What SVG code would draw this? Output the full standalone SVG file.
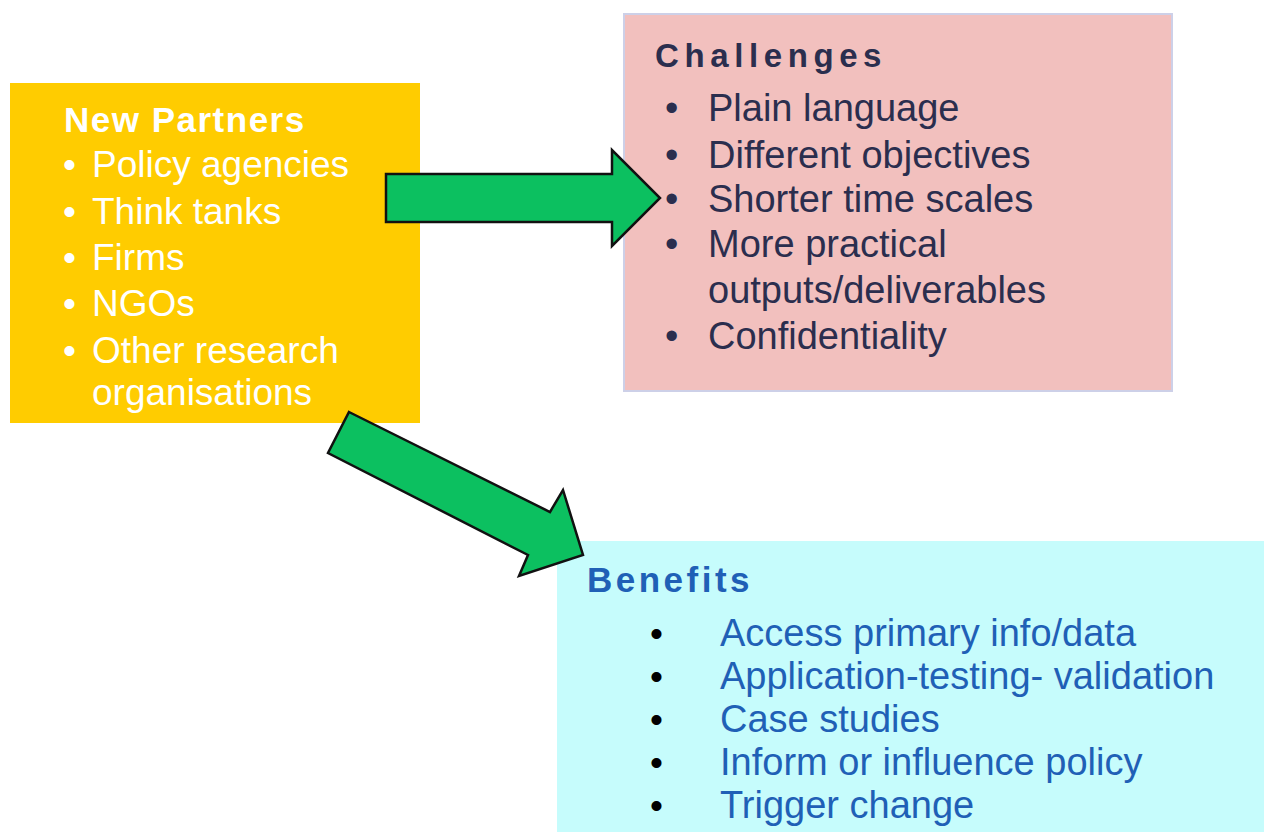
<svg xmlns="http://www.w3.org/2000/svg" width="1264" height="832" viewBox="0 0 1264 832">
<style>
text{font-family:"Liberation Sans",Arial,sans-serif}
.np{fill:#ffffff;font-size:37px}
.npt{fill:#ffffff;font-size:35px;font-weight:bold;letter-spacing:1.5px}
.ch{fill:#2b2e4e;font-size:38px}
.cht{fill:#2b2e4e;font-size:33px;font-weight:bold;letter-spacing:5.6px}
.be{fill:#1f60b6;font-size:38px}
.bet{fill:#1f60b6;font-size:35px;font-weight:bold;letter-spacing:3.5px}
.bb{fill:#000000;font-size:37px}
.arrow{fill:#0cc060;stroke:#111111;stroke-width:2.5;stroke-linejoin:miter}
</style>
<rect width="1264" height="832" fill="#ffffff"/>
<g id="new-partners">
<rect x="10" y="83" width="410" height="340" fill="#ffcc00"/>
<text class="npt" x="64" y="132">New Partners</text>
<text class="np" x="63" y="177">•</text><text class="np" x="92" y="177">Policy agencies</text>
<text class="np" x="63" y="224">•</text><text class="np" x="92" y="224">Think tanks</text>
<text class="np" x="63" y="270">•</text><text class="np" x="92" y="270">Firms</text>
<text class="np" x="63" y="316">•</text><text class="np" x="92" y="316">NGOs</text>
<text class="np" x="63" y="363">•</text><text class="np" x="92" y="363">Other research</text>
<text class="np" x="92" y="405">organisations</text>
</g>
<g id="challenges">
<rect x="624" y="14" width="548" height="377" fill="#f2c0be" stroke="#cdd0e8" stroke-width="2"/>
<text class="cht" x="655" y="67">Challenges</text>
<text class="ch" x="665" y="121">•</text><text class="ch" x="708" y="121">Plain language</text>
<text class="ch" x="665" y="168">•</text><text class="ch" x="708" y="168">Different objectives</text>
<text class="ch" x="665" y="212">•</text><text class="ch" x="708" y="212">Shorter time scales</text>
<text class="ch" x="665" y="257">•</text><text class="ch" x="708" y="257">More practical</text>
<text class="ch" x="708" y="303">outputs/deliverables</text>
<text class="ch" x="665" y="349">•</text><text class="ch" x="708" y="349">Confidentiality</text>
</g>
<g id="benefits">
<rect x="557" y="541" width="707" height="291" fill="#c6fcfc"/>
<text class="bet" x="587" y="592">Benefits</text>
<text class="bb" x="650" y="646">•</text><text class="be" x="720" y="646">Access primary info/data</text>
<text class="bb" x="650" y="689">•</text><text class="be" x="720" y="689">Application-testing- validation</text>
<text class="bb" x="650" y="732">•</text><text class="be" x="720" y="732">Case studies</text>
<text class="bb" x="650" y="775">•</text><text class="be" x="720" y="775">Inform or influence policy</text>
<text class="bb" x="650" y="818">•</text><text class="be" x="720" y="818">Trigger change</text>
</g>
<g id="connectors">
<polygon id="arrow-challenges" class="arrow" points="386,174 612,174 612,150 660,198 612,246 612,222 386,222"/>
<polygon id="arrow-benefits" class="arrow" points="349,412 550,512 563,490 583,555 519,576 528,555 328,453"/>
</g>
</svg>
